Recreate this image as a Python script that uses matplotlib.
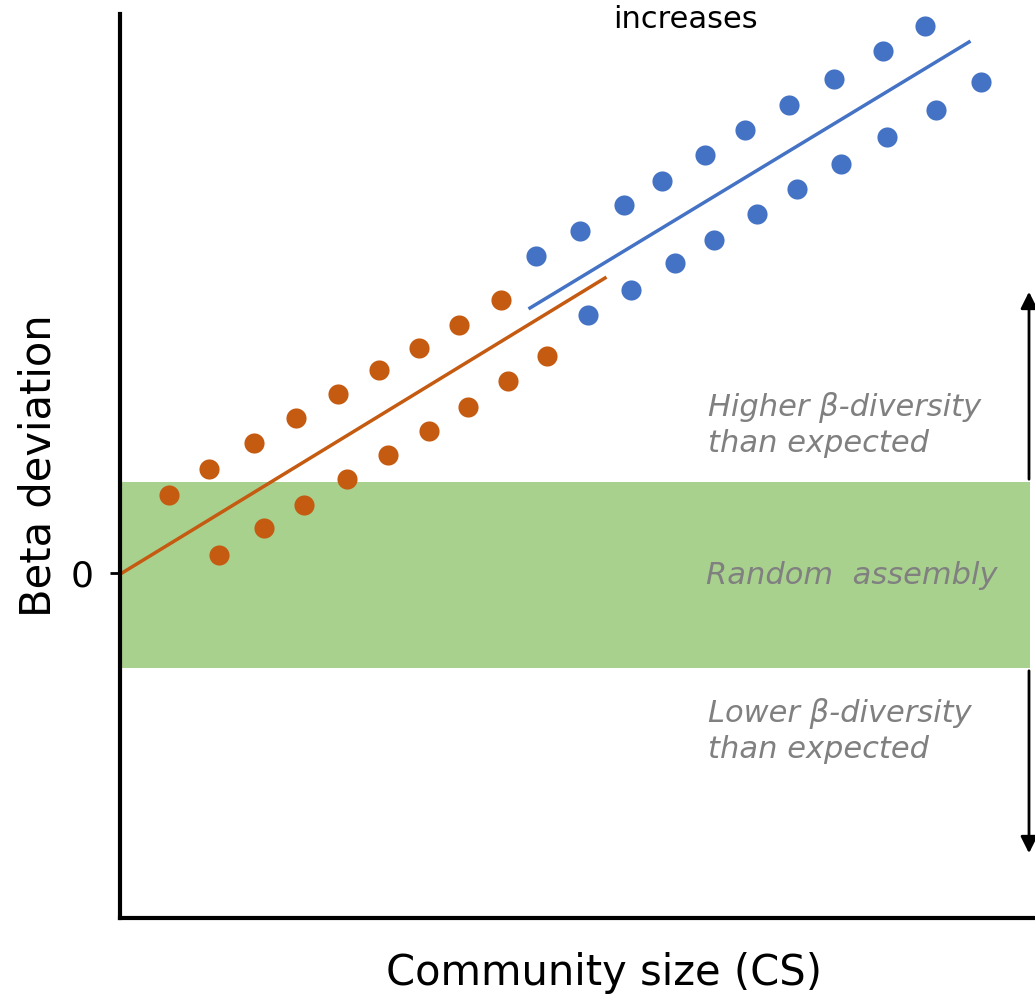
import numpy as np
import matplotlib.pyplot as plt

# orange (small community) points, two rows
orange_up_x = [4.9, 8.9, 13.4, 17.6, 21.8, 25.9, 29.9, 33.9, 38.1]
orange_up_y = [7.8, 10.4, 13.0, 15.5, 17.9, 20.3, 22.5, 24.8, 27.3]
orange_lo_x = [9.9, 14.4, 18.4, 22.7, 26.8, 30.9, 34.8, 38.8, 42.7]
orange_lo_y = [1.8, 4.5, 6.8, 9.4, 11.8, 14.2, 16.6, 19.2, 21.7]

# blue (large community) points, two rows
blue_up_x = [41.6, 46.0, 50.4, 54.2, 58.5, 62.5, 66.9, 71.4, 76.3, 80.5]
blue_up_y = [31.7, 34.2, 36.8, 39.2, 41.8, 44.3, 46.8, 49.4, 52.2, 54.7]
blue_lo_x = [46.8, 51.1, 55.5, 59.4, 63.7, 67.7, 72.1, 76.7, 81.6, 86.1]
blue_lo_y = [25.8, 28.3, 31.0, 33.3, 35.9, 38.4, 40.9, 43.6, 46.3, 49.1]

# trend lines
orange_line_x = [0.2, 48.5]
orange_line_y = [0.0, 29.5]
blue_line_x = [41.0, 84.9]
blue_line_y = [26.5, 53.1]

band_lo, band_hi = -9.5, 9.1

ORANGE = '#c55a11'
BLUE = '#4472c4'
GREEN = '#a9d18e'
GREY = '#808080'

fig = plt.figure(figsize=(10.35, 9.98), dpi=100)
ax = fig.add_axes([120/1035, 80/998, 915/1035, 904/998])
ax.set_xlim(0, 91.5)
ax.set_ylim(-34.5, 55.9)

ax.axhspan(band_lo, band_hi, xmin=0.2/91.5, xmax=91.0/91.5, color=GREEN, lw=0, zorder=1)

ax.plot(orange_line_x, orange_line_y, color=ORANGE, lw=2.5, zorder=2)
ax.plot(blue_line_x, blue_line_y, color=BLUE, lw=2.5, zorder=2)

ms = 210
ax.scatter(orange_up_x, orange_up_y, s=ms, color=ORANGE, lw=0, zorder=3)
ax.scatter(orange_lo_x, orange_lo_y, s=ms, color=ORANGE, lw=0, zorder=3)
ax.scatter(blue_up_x, blue_up_y, s=ms, color=BLUE, lw=0, zorder=3)
ax.scatter(blue_lo_x, blue_lo_y, s=ms, color=BLUE, lw=0, zorder=3)

# arrows on the right side
ax.annotate('', xy=(90.9, 28.4), xytext=(90.9, band_hi),
            arrowprops=dict(arrowstyle='-|>', color='black', lw=2, mutation_scale=25),
            annotation_clip=False)
ax.annotate('', xy=(90.9, -28.3), xytext=(90.9, band_lo),
            arrowprops=dict(arrowstyle='-|>', color='black', lw=2, mutation_scale=25),
            annotation_clip=False)

txt = dict(color=GREY, style='italic', fontsize=22, va='center', ha='left')
ax.text(58.8, 14.8, 'Higher β-diversity\nthan expected', linespacing=1.3, **txt)
ax.text(58.6, -0.2, 'Random  assembly', **txt)
ax.text(58.8, -15.8, 'Lower β-diversity\nthan expected', linespacing=1.3, **txt)

ax.text(56.5, 55.4, 'increases', fontsize=22, ha='center', va='center', clip_on=False)

for s in ['top', 'right']:
    ax.spines[s].set_visible(False)
ax.spines['left'].set_linewidth(3)
ax.spines['bottom'].set_linewidth(3)
ax.set_xticks([])
ax.set_yticks([0])
ax.set_yticklabels(['0'], fontsize=26)
ax.tick_params(axis='y', length=7, width=2, pad=12)

ax.set_xlabel('Community size (CS)', fontsize=30)
ax.xaxis.set_label_coords((604 - 120) / 915, -0.038)
ax.set_ylabel('Beta deviation', fontsize=30, labelpad=8)

fig.savefig('out.png', dpi=100)
